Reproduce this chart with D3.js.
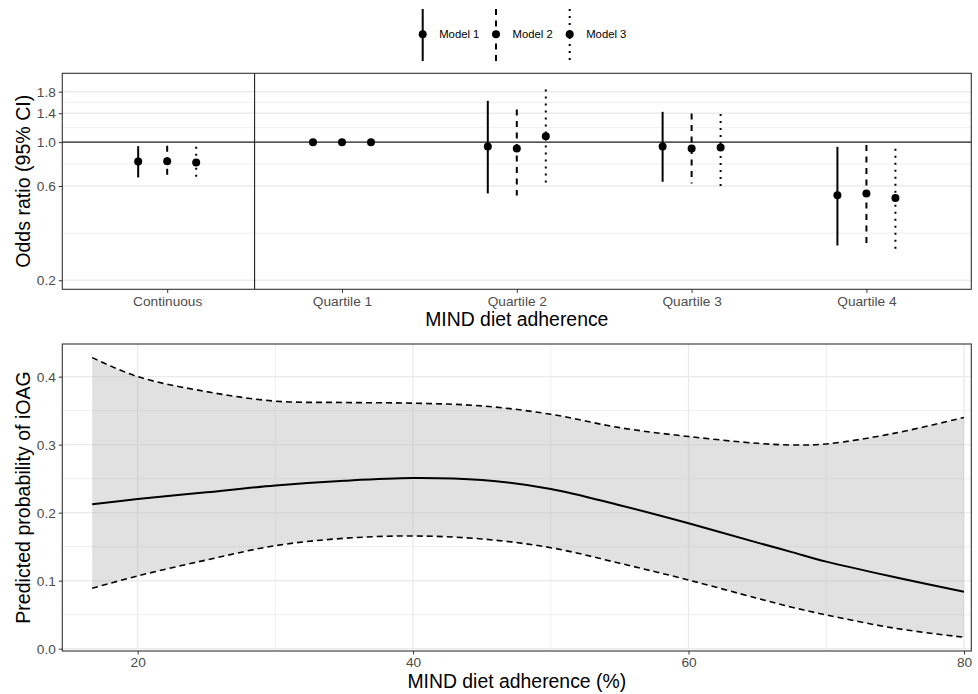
<!DOCTYPE html>
<html>
<head>
<meta charset="utf-8">
<script src="https://cdn.jsdelivr.net/npm/d3@7"></script>
<style>
  body { margin: 0; background: #fff; }
  svg { display: block; font-family: "Liberation Sans", Arial, sans-serif; }
</style>
</head>
<body>
<svg id="chart" width="978" height="694"></svg>
<script>
// ---------- Data ----------
const categories = ["Continuous", "Quartile 1", "Quartile 2", "Quartile 3", "Quartile 4"];
const models = ["Model 1", "Model 2", "Model 3"];
// odds ratio point estimates, [category][model]
const orEstimate = [
  [0.799, 0.800, 0.789],
  [1.000, 1.000, 1.000],
  [0.951, 0.929, 1.072],
  [0.951, 0.929, 0.940],
  [0.539, 0.550, 0.521]
];
const orLower = [
  [0.663, 0.667, 0.650],
  [1.000, 1.000, 1.000],
  [0.550, 0.537, 0.608],
  [0.630, 0.618, 0.599],
  [0.300, 0.309, 0.280]
];
const orUpper = [
  [0.954, 0.960, 0.947],
  [1.000, 1.000, 1.000],
  [1.618, 1.464, 1.848],
  [1.423, 1.397, 1.386],
  [0.947, 0.966, 0.925]
];
const orTicks = [0.2, 0.6, 1.0, 1.4, 1.8];

// predicted probability curve
const adherence = [16.7, 20, 25, 30, 35, 40, 45, 50, 55, 60, 65, 67.5, 70, 75, 80];
const probFit   = [0.2124, 0.220, 0.230, 0.240, 0.247, 0.251, 0.248, 0.2349, 0.211, 0.1844, 0.156, 0.142, 0.128, 0.105, 0.0838];
const probLower = [0.0888, 0.107, 0.1304, 0.1515, 0.1623, 0.1657, 0.1613, 0.1485, 0.1256, 0.101, 0.074, 0.061, 0.0496, 0.030, 0.0168];
const probUpper = [0.428, 0.400, 0.378, 0.364, 0.362, 0.361, 0.357, 0.3447, 0.325, 0.312, 0.302, 0.2995, 0.301, 0.317, 0.340];
const probTicks = [0.0, 0.1, 0.2, 0.3, 0.4];
const adherenceTicks = [20, 40, 60, 80];

// ---------- Styles ----------
const dashStyles = { "Model 1": null, "Model 2": "6,5.5", "Model 3": "2,5" };
const gridColor = "#ebebeb";
const borderColor = "#333333";
const tickTextColor = "#4d4d4d";

const svg = d3.select("#chart");

// ---------- Legend ----------
const legendX = [422.7, 496, 569.7];
const legend = svg.append("g");
models.forEach((m, i) => {
  const g = legend.append("g");
  g.append("line").attr("x1", legendX[i]).attr("x2", legendX[i])
    .attr("y1", 9).attr("y2", 61)
    .attr("stroke", "#000").attr("stroke-width", 2)
    .attr("stroke-dasharray", dashStyles[m]);
  g.append("circle").attr("cx", legendX[i]).attr("cy", 34.3).attr("r", 4).attr("fill", "#000");
  g.append("text").attr("x", legendX[i] + 16.5).attr("y", 34.3)
    .attr("dominant-baseline", "central")
    .attr("font-size", 11.3).attr("fill", "#000").text(m);
});

// ---------- Top panel ----------
const T = { l: 62.3, r: 971.3, t: 73.3, b: 289.3 };
const xCat = d3.scalePoint().domain(categories).range([T.l, T.r]).padding(0.6);
const dodge = d3.scalePoint().domain(models).range([-29, 29]);
const yOR = d3.scaleLog().domain([0.18, 2.23]).range([T.b, T.t]);

const topG = svg.append("g");
// minor grid (log midpoints)
const minor = [];
for (let i = 0; i < orTicks.length - 1; i++) minor.push(Math.sqrt(orTicks[i] * orTicks[i + 1]));
topG.selectAll(".minor").data(minor).enter().append("line")
  .attr("x1", T.l).attr("x2", T.r)
  .attr("y1", d => yOR(d)).attr("y2", d => yOR(d))
  .attr("stroke", gridColor).attr("stroke-width", 0.8);
topG.selectAll(".major").data(orTicks).enter().append("line")
  .attr("x1", T.l).attr("x2", T.r)
  .attr("y1", d => yOR(d)).attr("y2", d => yOR(d))
  .attr("stroke", gridColor).attr("stroke-width", 1.4);

// reference lines
topG.append("line").attr("x1", T.l).attr("x2", T.r)
  .attr("y1", yOR(1)).attr("y2", yOR(1)).attr("stroke", "#222").attr("stroke-width", 1.1);
const sepX = (xCat(categories[0]) + xCat(categories[1])) / 2;
topG.append("line").attr("x1", sepX).attr("x2", sepX)
  .attr("y1", T.t).attr("y2", T.b).attr("stroke", "#222").attr("stroke-width", 1.1);

// error bars + points
const pts = [];
categories.forEach((c, ci) => models.forEach((m, mi) => {
  pts.push({ c, m, est: orEstimate[ci][mi], lo: orLower[ci][mi], hi: orUpper[ci][mi] });
}));
topG.selectAll(".ci").data(pts.filter(d => d.hi > d.lo)).enter().append("line")
  .attr("x1", d => xCat(d.c) + dodge(d.m)).attr("x2", d => xCat(d.c) + dodge(d.m))
  .attr("y1", d => yOR(d.hi)).attr("y2", d => yOR(d.lo))
  .attr("stroke", "#000").attr("stroke-width", 2)
  .attr("stroke-dasharray", d => dashStyles[d.m]);
topG.selectAll(".pt").data(pts).enter().append("circle")
  .attr("cx", d => xCat(d.c) + dodge(d.m)).attr("cy", d => yOR(d.est))
  .attr("r", 4).attr("fill", "#000");

// border
topG.append("rect").attr("x", T.l).attr("y", T.t).attr("width", T.r - T.l).attr("height", T.b - T.t)
  .attr("fill", "none").attr("stroke", borderColor).attr("stroke-width", 1.1);

// axes
const topXAxis = topG.append("g").attr("transform", `translate(0,${T.b})`)
  .call(d3.axisBottom(xCat).tickSize(3.5).tickSizeOuter(0).tickPadding(3));
const topYAxis = topG.append("g").attr("transform", `translate(${T.l},0)`)
  .call(d3.axisLeft(yOR).tickValues(orTicks).tickFormat(d3.format(".1f")).tickSize(3.5).tickPadding(3));
[topXAxis, topYAxis].forEach(a => {
  a.select(".domain").remove();
  a.selectAll("line").attr("stroke", borderColor);
  a.selectAll("text").attr("fill", tickTextColor).attr("font-size", 13.7)
    .attr("font-family", "Liberation Sans, Arial, sans-serif");
});

svg.append("text").attr("x", (T.l + T.r) / 2).attr("y", 325.5)
  .attr("text-anchor", "middle").attr("font-size", 19.4).attr("fill", "#000")
  .text("MIND diet adherence");
svg.append("text").attr("transform", `translate(29.5,${(T.t + T.b) / 2}) rotate(-90)`)
  .attr("text-anchor", "middle").attr("font-size", 19.6).attr("fill", "#000")
  .text("Odds ratio (95% CI)");

// ---------- Bottom panel ----------
const B = { l: 62.3, r: 971.3, t: 344, b: 651 };
const xAd = d3.scaleLinear().domain([14.53, 80.53]).range([B.l, B.r]);
const yP = d3.scaleLinear().domain([-0.0034, 0.448]).range([B.b, B.t]);
const bot = svg.append("g");

const minorX = [30, 50, 70];
const minorY = [0.05, 0.15, 0.25, 0.35];
bot.selectAll(".mx").data(minorX).enter().append("line")
  .attr("x1", d => xAd(d)).attr("x2", d => xAd(d)).attr("y1", B.t).attr("y2", B.b)
  .attr("stroke", gridColor).attr("stroke-width", 0.8);
bot.selectAll(".my").data(minorY).enter().append("line")
  .attr("x1", B.l).attr("x2", B.r).attr("y1", d => yP(d)).attr("y2", d => yP(d))
  .attr("stroke", gridColor).attr("stroke-width", 0.8);
bot.selectAll(".Mx").data(adherenceTicks).enter().append("line")
  .attr("x1", d => xAd(d)).attr("x2", d => xAd(d)).attr("y1", B.t).attr("y2", B.b)
  .attr("stroke", gridColor).attr("stroke-width", 1.4);
bot.selectAll(".My").data(probTicks).enter().append("line")
  .attr("x1", B.l).attr("x2", B.r).attr("y1", d => yP(d)).attr("y2", d => yP(d))
  .attr("stroke", gridColor).attr("stroke-width", 1.4);

const rows = adherence.map((x, i) => ({ x, fit: probFit[i], lo: probLower[i], hi: probUpper[i] }));
const curve = d3.curveCatmullRom.alpha(0.5);
bot.append("path").datum(rows)
  .attr("d", d3.area().x(d => xAd(d.x)).y0(d => yP(d.lo)).y1(d => yP(d.hi)).curve(curve))
  .attr("fill", "#b3b3b3").attr("fill-opacity", 0.4);
bot.append("path").datum(rows)
  .attr("d", d3.line().x(d => xAd(d.x)).y(d => yP(d.hi)).curve(curve))
  .attr("fill", "none").attr("stroke", "#000").attr("stroke-width", 1.6).attr("stroke-dasharray", "6,4");
bot.append("path").datum(rows)
  .attr("d", d3.line().x(d => xAd(d.x)).y(d => yP(d.lo)).curve(curve))
  .attr("fill", "none").attr("stroke", "#000").attr("stroke-width", 1.6).attr("stroke-dasharray", "6,4");
bot.append("path").datum(rows)
  .attr("d", d3.line().x(d => xAd(d.x)).y(d => yP(d.fit)).curve(curve))
  .attr("fill", "none").attr("stroke", "#000").attr("stroke-width", 2);

bot.append("rect").attr("x", B.l).attr("y", B.t).attr("width", B.r - B.l).attr("height", B.b - B.t)
  .attr("fill", "none").attr("stroke", borderColor).attr("stroke-width", 1.1);

const botX = bot.append("g").attr("transform", `translate(0,${B.b})`)
  .call(d3.axisBottom(xAd).tickValues(adherenceTicks).tickFormat(d3.format("d")).tickSize(3.5).tickPadding(3));
const botY = bot.append("g").attr("transform", `translate(${B.l},0)`)
  .call(d3.axisLeft(yP).tickValues(probTicks).tickFormat(d3.format(".1f")).tickSize(3.5).tickPadding(3));
[botX, botY].forEach(a => {
  a.select(".domain").remove();
  a.selectAll("line").attr("stroke", borderColor);
  a.selectAll("text").attr("fill", tickTextColor).attr("font-size", 13.7)
    .attr("font-family", "Liberation Sans, Arial, sans-serif");
});

svg.append("text").attr("x", (B.l + B.r) / 2).attr("y", 688)
  .attr("text-anchor", "middle").attr("font-size", 19.4).attr("fill", "#000")
  .text("MIND diet adherence (%)");
svg.append("text").attr("transform", `translate(29.5,${(B.t + B.b) / 2}) rotate(-90)`)
  .attr("text-anchor", "middle").attr("font-size", 19.6).attr("fill", "#000")
  .text("Predicted probability of iOAG");
</script>
</body>
</html>
